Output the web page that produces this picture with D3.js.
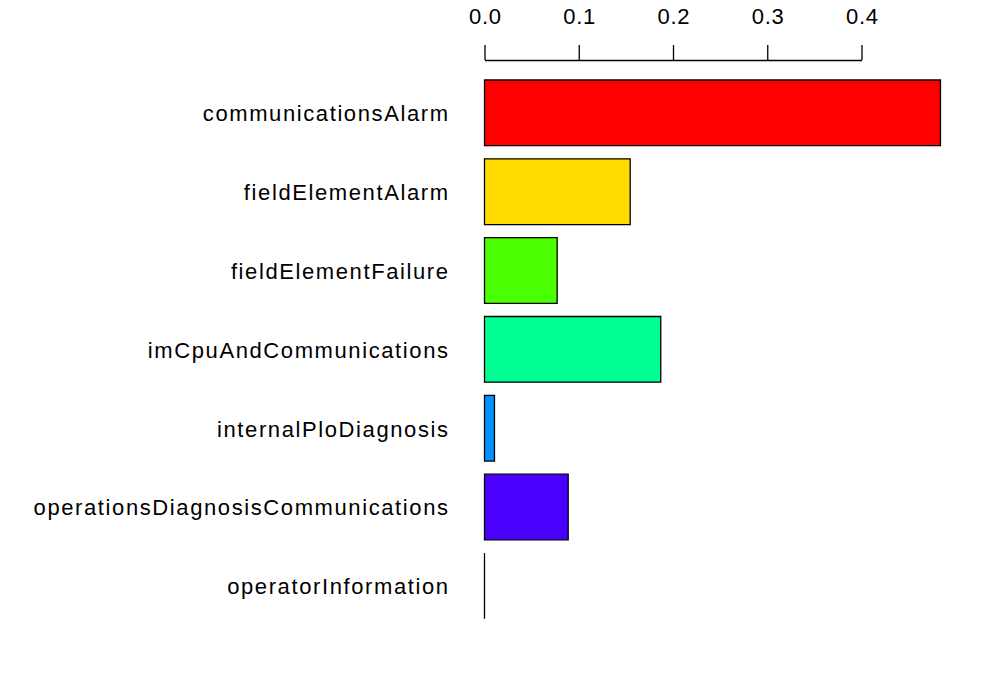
<!DOCTYPE html>
<html>
<head>
<meta charset="utf-8">
<script src="https://cdn.jsdelivr.net/npm/d3@7/dist/d3.min.js"></script>
<style>
html,body{margin:0;padding:0;background:#fff;}
svg text{font-family:"Liberation Sans",Arial,Helvetica,sans-serif;}
</style>
</head>
<body>
<svg id="chart" width="1000" height="700"></svg>
<script>
const categories = ["communicationsAlarm","fieldElementAlarm","fieldElementFailure","imCpuAndCommunications","internalPloDiagnosis","operationsDiagnosisCommunications","operatorInformation"];
const values = [0.4838, 0.1546, 0.0771, 0.187, 0.0106, 0.0888, 0];
const colors = ["#FF0000","#FFDB00","#49FF00","#00FF92","#0092FF","#4900FF","#FF00DB"];
const tickValues = [0, 0.1, 0.2, 0.3, 0.4];

const svg = d3.select("#chart");
const x = d3.scaleLinear().domain([0, 0.4]).range([484.5, 861.5]);
const y = d3.scaleBand().domain(categories).range([80, 618.7]).paddingInner(1/6).paddingOuter(0);

const data = categories.map((c,i)=>({c, v: values[i], col: colors[i]}));

svg.append("g").selectAll("path").data(data).enter().append("path")
  .attr("d", d=>{
    const p = d3.path();
    const x0 = x(0), w = x(d.v)-x(0), y0 = y(d.c), h = y.bandwidth();
    p.moveTo(x0,y0); p.lineTo(x0+w,y0); p.lineTo(x0+w,y0+h); p.lineTo(x0,y0+h); p.closePath();
    return p.toString();
  })
  .attr("fill", d=>d.col)
  .attr("stroke", "#000")
  .attr("stroke-width", 1.3);

const fs = 22;
const axis = d3.axisTop(x).tickValues(tickValues).tickFormat(d3.format(".1f")).tickSizeInner(15).tickSizeOuter(0).tickPadding(21);
const ag = svg.append("g").attr("transform","translate(0,60)").call(axis);
ag.select(".domain").attr("stroke","#000").attr("stroke-width",1.3);
ag.selectAll(".tick line").attr("stroke","#000").attr("stroke-width",1.3);
const tt = ag.selectAll(".tick text").attr("font-size", fs).attr("fill","#000").attr("font-family","Liberation Sans, Arial, sans-serif");
// widen spacing to match reference glyph advance
const tw0 = tt.node().getComputedTextLength();
const tls = (33 - tw0) / 3;
tt.attr("letter-spacing", tls).attr("dx", tls/2);

const lab = svg.append("g").selectAll("text").data(data).enter().append("text")
  .attr("y", d=>y(d.c)+y.bandwidth()/2)
  .attr("dy", "0.38em")
  .attr("text-anchor","end")
  .attr("font-size", fs)
  .attr("fill","#000")
  .text(d=>d.c);
const longest = lab.filter(d=>d.c==="operationsDiagnosisCommunications").node();
const w0 = longest.getComputedTextLength();
const ls = (416 - w0) / 33;
lab.attr("letter-spacing", ls).attr("x", 448 + ls);
</script>
</body>
</html>
